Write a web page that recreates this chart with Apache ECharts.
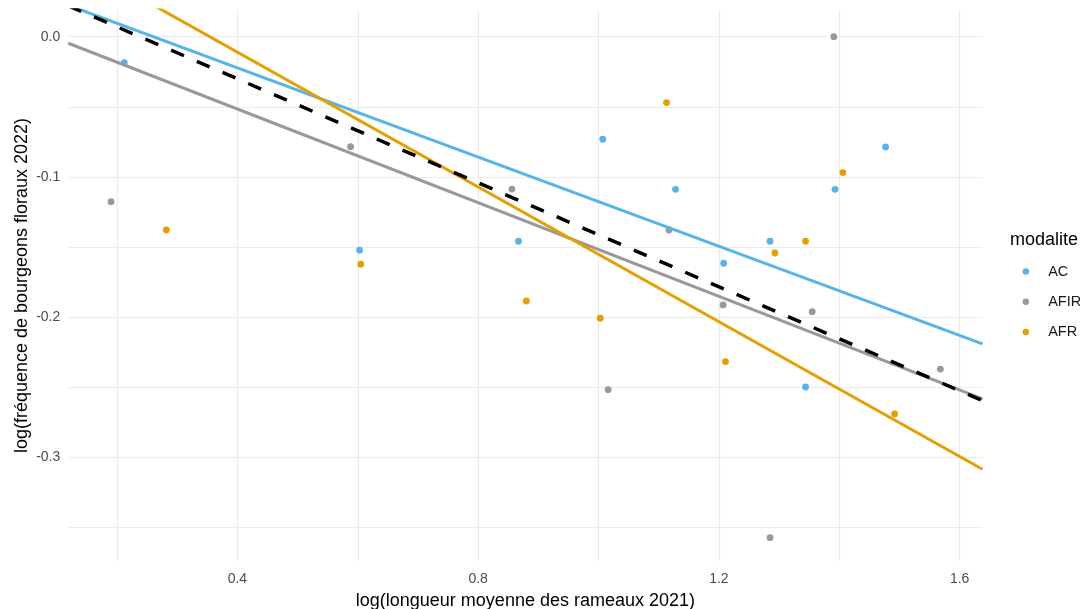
<!DOCTYPE html>
<html>
<head>
<meta charset="utf-8">
<script src="https://cdn.jsdelivr.net/npm/echarts@6/dist/echarts.min.js"></script>
<style>
html,body{margin:0;padding:0;background:#fff;overflow:hidden;width:1080px;height:609px;}
#chart{width:1120px;height:609px;}
</style>
</head>
<body>
<div id="chart"></div>
<script>
// ---- data ----
const acX   = [0.212, 0.603, 0.867, 1.007, 1.128, 1.208, 1.285, 1.344, 1.393, 1.477];
const acY   = [-0.0185, -0.1522, -0.1458, -0.0731, -0.1088, -0.1615, -0.1458, -0.2497, -0.1088, -0.0786];
const afirX = [0.190, 0.588, 0.856, 1.016, 1.117, 1.207, 1.285, 1.355, 1.391, 1.568];
const afirY = [-0.1176, -0.0784, -0.1086, -0.2516, -0.1378, -0.1912, -0.3571, -0.1960, 0.0, -0.2369];
const afrX  = [0.282, 0.605, 0.880, 1.003, 1.113, 1.211, 1.293, 1.344, 1.406, 1.492];
const afrY  = [-0.1378, -0.1622, -0.1884, -0.2007, -0.0470, -0.2316, -0.1542, -0.1458, -0.0969, -0.2689];

// fitted lines, read at the panel edges
const fitX     = [0.119, 1.638];
const acFitY   = [0.0224, -0.2190];
const afirFitY = [-0.0047, -0.2582];
const afrFitY  = [0.0564, -0.3083];
const allFitY  = [0.0220, -0.2594];

const groups = ['AC', 'AFIR', 'AFR'];
const xLabelTicks = [0.4, 0.8, 1.2, 1.6];
const xGridTicks  = [0.2, 0.4, 0.6, 0.8, 1.0, 1.2, 1.4, 1.6];
const yLabelTicks = [-0.3, -0.2, -0.1, 0.0];
const yGridTicks  = [-0.35, -0.3, -0.25, -0.2, -0.15, -0.1, -0.05, 0.0];
const xRange = [0.119, 1.638];
const yRange = [-0.3737, 0.019];

const xTitle = 'log(longueur moyenne des rameaux 2021)';
const yTitle = 'log(fréquence de bourgeons floraux 2022)';
const legendTitle = 'modalite';

// ---- chart ----
const colors = {AC: '#56B4E9', AFIR: '#999999', AFR: '#E69F00'};
const FONT = '"Liberation Sans", Arial, sans-serif';
const zip = (xs, ys) => xs.map((x, i) => [x, ys[i]]);

const chart = echarts.init(document.getElementById('chart'), null, {renderer: 'canvas'});

const scatter = (name, xs, ys) => ({
  name, type: 'scatter', data: zip(xs, ys), symbolSize: 6.8, z: 2,
  itemStyle: {color: colors[name], opacity: 1},
  emphasis: {disabled: true}, animation: false
});
const fit = (name, ys, color, width, dash) => ({
  name, type: 'line', data: zip(fitX, ys), showSymbol: false, symbol: 'none', clip: true, z: 3,
  lineStyle: {color, width, type: dash || 'solid', cap: 'butt'},
  emphasis: {disabled: true}, animation: false
});

chart.setOption({
  animation: false,
  backgroundColor: '#ffffff',
  grid: {left: 68.3, right: 137.5, top: 10, bottom: 48, containLabel: false},
  xAxis: {
    type: 'value', min: xRange[0], max: xRange[1],
    axisLine: {show: false}, axisTick: {show: false}, splitLine: {show: false},
    axisLabel: {customValues: xLabelTicks, formatter: v => v.toFixed(1), color: '#4D4D4D',
      fontSize: 14, fontFamily: FONT, margin: 11}
  },
  yAxis: {
    type: 'value', min: yRange[0], max: yRange[1],
    axisLine: {show: false}, axisTick: {show: false}, splitLine: {show: false},
    axisLabel: {customValues: yLabelTicks, formatter: v => v.toFixed(1), color: '#4D4D4D',
      fontSize: 14, fontFamily: FONT, margin: 8}
  },
  legend: {
    data: groups, orient: 'vertical', left: 1022.6, top: 264, padding: 0,
    itemWidth: 34.6, itemHeight: 6.5, itemGap: 15.3, icon: 'circle',
    textStyle: {fontSize: 14.5, fontFamily: FONT, color: '#1a1a1a', lineHeight: 14},
    selectedMode: false
  },
  graphic: [
    {type: 'text', x: 525.4, y: 601, silent: true,
      style: {text: xTitle, fontSize: 18, fontFamily: FONT, fill: '#000', align: 'center', verticalAlign: 'middle'}},
    {type: 'text', x: 21.7, y: 285.5, rotation: Math.PI / 2, silent: true,
      style: {text: yTitle, fontSize: 18, fontFamily: FONT, fill: '#000', align: 'center', verticalAlign: 'middle'}},
    {type: 'text', x: 1010, y: 240, silent: true,
      style: {text: legendTitle, fontSize: 18, fontFamily: FONT, fill: '#000', align: 'left', verticalAlign: 'middle'}}
  ],
  series: [
    {
      name: 'grid', type: 'line', data: [], z: 0, silent: true,
      markLine: {
        silent: true, symbol: 'none', z: 0, animation: false,
        label: {show: false}, emphasis: {disabled: true},
        lineStyle: {color: '#EBEBEB', width: 1.2, type: 'solid'},
        data: xGridTicks.map(v => ({xAxis: v})).concat(yGridTicks.map(v => ({yAxis: v})))
      }
    },
    scatter('AC', acX, acY),
    scatter('AFIR', afirX, afirY),
    scatter('AFR', afrX, afrY),
    fit('AC fit', acFitY, colors.AC, 3),
    fit('AFIR fit', afirFitY, colors.AFIR, 3),
    fit('AFR fit', afrFitY, colors.AFR, 3),
    fit('all fit', allFitY, '#000000', 3.5, [14, 14])
  ]
});
</script>
</body>
</html>
